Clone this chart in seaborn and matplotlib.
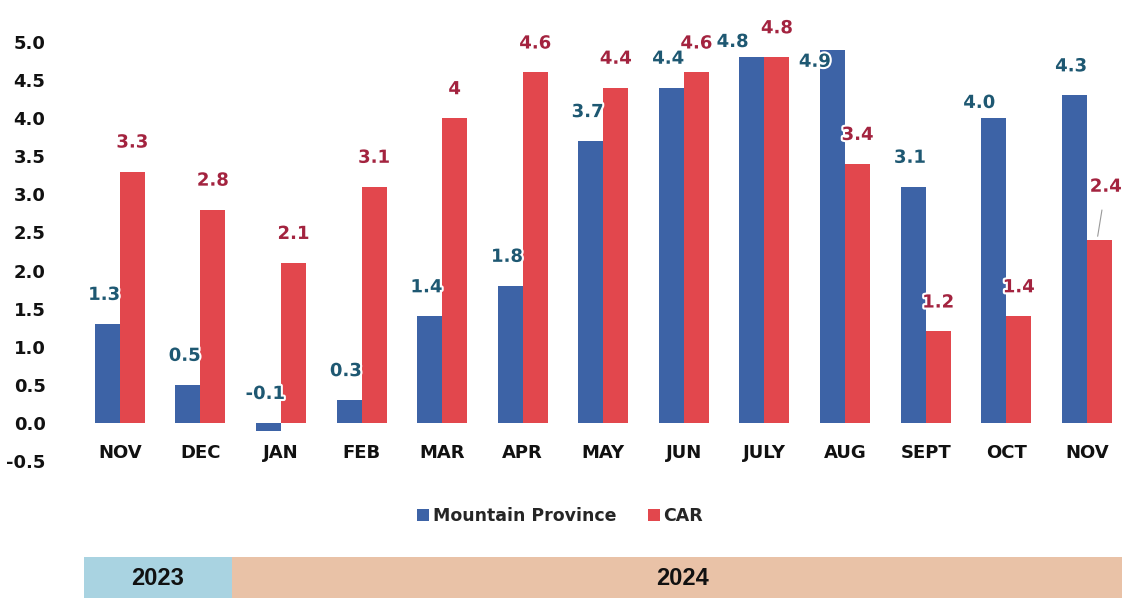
import matplotlib
matplotlib.use("Agg")
import matplotlib.pyplot as plt
import matplotlib.patheffects as pe
import seaborn as sns
import pandas as pd
from matplotlib.patches import Rectangle

months = ["NOV", "DEC", "JAN", "FEB", "MAR", "APR", "MAY", "JUN", "JULY", "AUG", "SEPT", "OCT", "NOV"]
keys = ["NOV23", "DEC", "JAN", "FEB", "MAR", "APR", "MAY", "JUN", "JULY", "AUG", "SEPT", "OCT", "NOV24"]
mountain_province = [1.3, 0.5, -0.1, 0.3, 1.4, 1.8, 3.7, 4.4, 4.8, 4.9, 3.1, 4.0, 4.3]
car = [3.3, 2.8, 2.1, 3.1, 4.0, 4.6, 4.4, 4.6, 4.8, 3.4, 1.2, 1.4, 2.4]
car_labels = ["3.3", "2.8", "2.1", "3.1", "4", "4.6", "4.4", "4.6", "4.8", "3.4", "1.2", "1.4", "2.4"]
series = ["Mountain Province", "CAR"]
years = ["2023", "2024"]
yticks = [-0.5, 0.0, 0.5, 1.0, 1.5, 2.0, 2.5, 3.0, 3.5, 4.0, 4.5, 5.0]

df = pd.DataFrame({
    "key": keys * 2,
    "value": mountain_province + car,
    "series": [series[0]] * len(keys) + [series[1]] * len(keys),
})

blue = "#3D63A6"
red = "#E2474D"
blue_txt = "#1E5872"
red_txt = "#A3233F"

sns.set_theme(style="white")
plt.rcParams["font.family"] = ["DejaVu Sans"]

fig = plt.figure(figsize=(11.22, 5.98), dpi=100)
W, H = 1122, 598
ax = fig.add_axes([65 / W, 1 - 461 / H, (1115 - 65) / W, (461 - 42) / H])

sns.barplot(data=df, x="key", y="value", hue="series", order=keys,
            hue_order=series, palette=[blue, red], width=0.62,
            saturation=1, ax=ax, legend=True, edgecolor="none")

ax.spines["bottom"].set_position(("data", 0))
for s in ax.spines.values():
    s.set_visible(False)
ax.set_xlim(-0.68, 12.35)
ax.set_ylim(-0.5, 5.0)
ax.set_yticks(yticks)
ax.set_yticklabels([f"{t:.1f}" for t in yticks], fontsize=13, fontweight="bold", color="#111111")
ax.tick_params(axis="y", length=0, pad=14)
ax.set_xticks(range(len(keys)))
ax.set_xticklabels(months, fontsize=13, fontweight="bold", color="#111111")
ax.tick_params(axis="x", length=0, pad=15)
ax.set_xlabel("")
ax.set_ylabel("")
ax.grid(False)

glow = [pe.withStroke(linewidth=3, foreground="white")]

# data labels
mp_bars = ax.containers[0]
car_bars = ax.containers[1]
off = 0.38
mp_shift = {8: (-0.24, -0.18), 9: (-0.22, -0.54), 11: (-0.18, -0.18)}
for i, (b, v) in enumerate(zip(mp_bars, mountain_province)):
    cx = b.get_x() + b.get_width() / 2
    dx, dy = mp_shift.get(i, (-0.04, 0.0))
    y = max(v, 0) + off + dy
    t = ax.text(cx + dx, y, f"{v:.1f}", ha="center", va="center", fontsize=13,
                fontweight="bold", color=blue_txt, zorder=5)
    t.set_path_effects(glow)
for i, (b, v) in enumerate(zip(car_bars, car)):
    cx = b.get_x() + b.get_width() / 2
    if i == 12:
        t = ax.annotate(car_labels[i], xy=(cx - 0.02, v + 0.05), xytext=(cx + 0.08, v + 0.7),
                        ha="center", va="center", fontsize=13, fontweight="bold", color=red_txt,
                        arrowprops=dict(arrowstyle="-", color="#999999", lw=0.8, shrinkA=8, shrinkB=0),
                        zorder=5)
    else:
        t = ax.text(cx, v + off, car_labels[i], ha="center", va="center", fontsize=13,
                    fontweight="bold", color=red_txt, zorder=5)
    t.set_path_effects(glow)

# legend
handles, labels = ax.get_legend_handles_labels()
ax.get_legend().remove()
fig.legend(handles, labels, loc="center", bbox_to_anchor=(560 / W, 1 - 516 / H), ncol=2,
           frameon=False, handlelength=0.7, handleheight=0.7, handletextpad=0.2,
           columnspacing=1.8, prop={"weight": "bold", "size": 12.5})

# year band
bax = fig.add_axes([0, 0, 1, (598 - 557) / H])
bax.set_xlim(0, W)
bax.set_ylim(0, 1)
bax.axis("off")
bax.add_patch(Rectangle((84, 0), 232 - 84, 1, color="#A9D3E1", lw=0))
bax.add_patch(Rectangle((232, 0), W - 232, 1, color="#E9C2A7", lw=0))
for xpos, yr in zip([158, 683], years):
    bax.text(xpos, 0.48, yr, ha="center", va="center", fontsize=17, fontweight="bold",
             family="Liberation Sans", color="#111111")

fig.savefig("out.png", dpi=100, facecolor="white")
